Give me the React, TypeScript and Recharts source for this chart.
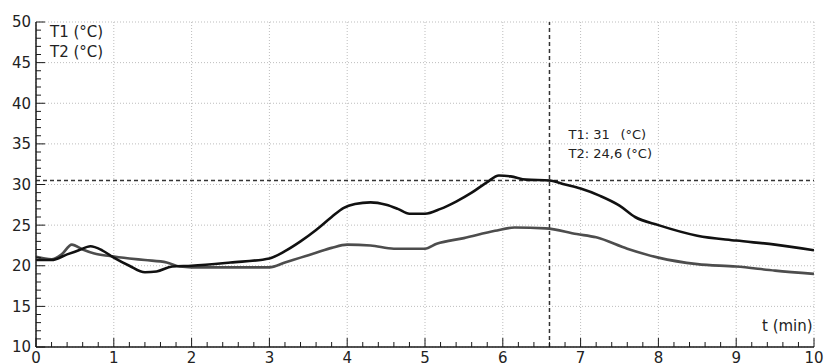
import { LineChart, Line, XAxis, YAxis, CartesianGrid, ReferenceLine } from "recharts";

// T1 (black trace), t in minutes
const t1Times = [0, 0.2, 0.4, 0.55, 0.7, 0.85, 1.0, 1.2, 1.4, 1.55, 1.75, 2.0, 2.5, 3.0, 3.2, 3.4, 3.6, 3.8, 3.95, 4.1, 4.3, 4.5, 4.65, 4.8, 5.0, 5.2, 5.4, 5.6, 5.8, 5.95, 6.1, 6.3, 6.6, 6.8, 7.0, 7.25, 7.5, 7.7, 8.0, 8.5, 9.0, 9.5, 10.0];
const t1Values = [20.7, 20.7, 21.4, 21.9, 22.4, 21.9, 21.0, 20.0, 19.2, 19.3, 19.9, 20.0, 20.4, 20.9, 21.8, 23.0, 24.4, 26.0, 27.1, 27.6, 27.8, 27.5, 27.0, 26.4, 26.4, 27.0, 27.9, 29.0, 30.3, 31.1, 31.0, 30.6, 30.5, 30.0, 29.5, 28.6, 27.4, 26.0, 25.0, 23.7, 23.1, 22.6, 21.9];

// T2 (grey trace)
const t2Times = [0, 0.2, 0.33, 0.46, 0.6, 0.75, 0.95, 1.2, 1.4, 1.68, 1.85, 2.0, 2.5, 3.0, 3.2, 3.4, 3.6, 3.8, 4.0, 4.3, 4.6, 5.0, 5.15, 5.5, 5.9, 6.15, 6.55, 6.95, 7.2, 7.6, 8.0, 8.5, 9.0, 9.5, 10.0];
const t2Values = [21.1, 20.8, 21.4, 22.6, 22.0, 21.5, 21.2, 20.9, 20.7, 20.4, 19.9, 19.8, 19.8, 19.8, 20.4, 21.0, 21.6, 22.2, 22.6, 22.5, 22.1, 22.1, 22.7, 23.4, 24.3, 24.7, 24.6, 23.9, 23.5, 22.1, 21.0, 20.2, 19.9, 19.4, 19.0];

const yLabels = [10, 15, 20, 25, 30, 35, 40, 45, 50];
const xLabels = [0, 1, 2, 3, 4, 5, 6, 7, 8, 9, 10];

const cursorTime = 6.6;
const cursorLevel = 30.5;
const readoutT1 = "31";
const readoutT2 = "24,6";

const t1Data = t1Times.map((t, i) => ({ t, v: t1Values[i] }));
const t2Data = t2Times.map((t, i) => ({ t, v: t2Values[i] }));

// minor ticks: every 1 °C and every 0.2 min
const yTicks = Array.from({ length: 41 }, (_, i) => 10 + i);
const xTicks = Array.from({ length: 51 }, (_, i) => i / 5);

const FONT = "DejaVu Sans, Verdana, sans-serif";
const INK = "#1a1a1a";

function YTick(props: any) {
  const { x, y, payload } = props;
  const v = payload.value;
  const major = yLabels.includes(v);
  return (
    <g>
      <line x1={x} x2={x + (major ? 9 : 5)} y1={y} y2={y} stroke={INK} strokeWidth={1} />
      {major && (
        <text x={x - 5} y={y} dy="0.36em" textAnchor="end" fontSize={15} fontFamily={FONT} fill="#222">
          {v}
        </text>
      )}
    </g>
  );
}

function XTick(props: any) {
  const { x, y, payload } = props;
  const v = payload.value;
  const major = xLabels.some((l) => Math.abs(l - v) < 1e-6);
  return (
    <g>
      <line x1={x} x2={x} y1={y} y2={y - (major ? 9 : 5)} stroke={INK} strokeWidth={1} />
      {major && (
        <text x={x} y={y + 16} textAnchor="middle" fontSize={15} fontFamily={FONT} fill="#222">
          {Math.round(v)}
        </text>
      )}
    </g>
  );
}

function Readout(props: any) {
  const { viewBox } = props;
  const x = viewBox.x + 19;
  const y = viewBox.y;
  const style = { fontSize: 13, fontFamily: FONT, fill: "#222" };
  return (
    <g>
      <text x={x} y={y + 112} dominantBaseline="central" {...style}>T1: {readoutT1}</text>
      <text x={x + 52} y={y + 112} dominantBaseline="central" {...style}>(°C)</text>
      <text x={x} y={y + 131} dominantBaseline="central" {...style}>T2: {readoutT2} (°C)</text>
    </g>
  );
}

export default function App() {
  return (
    <div style={{ position: "absolute", left: 0, top: 0, width: 825, height: 364, background: "#fff", fontFamily: FONT }}>
      <LineChart width={825} height={364} margin={{ top: 22, right: 11, bottom: 0, left: 0 }}>
        <CartesianGrid
          stroke="#bdbdbd"
          strokeDasharray="1 2"
          horizontalValues={yLabels}
          verticalValues={xLabels}
        />
        <XAxis
          type="number"
          dataKey="t"
          domain={[0, 10]}
          ticks={xTicks}
          interval={0}
          height={17}
          tickSize={0}
          tickMargin={0}
          tickLine={false}
          axisLine={{ stroke: INK, strokeWidth: 1.5 }}
          tick={<XTick />}
          allowDataOverflow
        />
        <YAxis
          type="number"
          domain={[10, 50]}
          ticks={yTicks}
          interval={0}
          width={36}
          tickSize={0}
          tickMargin={0}
          tickLine={false}
          axisLine={{ stroke: INK, strokeWidth: 1.5 }}
          tick={<YTick />}
          allowDataOverflow
        />
        <ReferenceLine y={cursorLevel} stroke="#333" strokeWidth={1.5} strokeDasharray="4 3" />
        <ReferenceLine x={cursorTime} stroke="#333" strokeWidth={1.5} strokeDasharray="4 3" label={<Readout />} />
        <Line data={t2Data} dataKey="v" type="monotone" stroke="#4d4d4d" strokeWidth={2.6} dot={false} isAnimationActive={false} />
        <Line data={t1Data} dataKey="v" type="monotone" stroke="#111" strokeWidth={2.6} dot={false} isAnimationActive={false} />
      </LineChart>
      <div style={{ position: "absolute", left: 50, top: 22, fontSize: 15, lineHeight: "20px", color: "#222" }}>
        <div>T1 (°C)</div>
        <div>T2 (°C)</div>
      </div>
      <div style={{ position: "absolute", left: 762, top: 316, fontSize: 15, lineHeight: "20px", color: "#222" }}>
        t (min)
      </div>
    </div>
  );
}
